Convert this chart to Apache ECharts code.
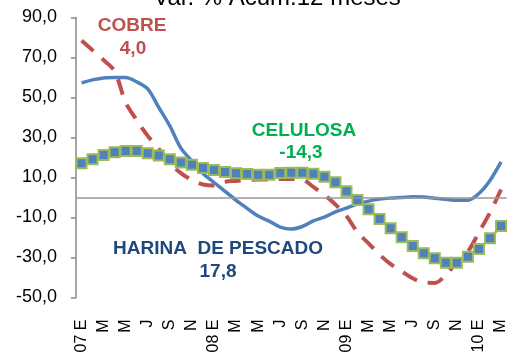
<!DOCTYPE html>
<html>
<head>
<meta charset="utf-8">
<script src="https://cdn.jsdelivr.net/npm/echarts@6/dist/echarts.min.js"></script>
<style>
  html, body { margin: 0; padding: 0; background: #fff; }
  #chart { width: 509px; height: 360px; }
</style>
</head>
<body>
<div id="chart"></div>
<script>
// Monthly categories, Jan 2007 – Mar 2010
var months = [
  '07 E','F','M','A','M','J','J','A','S','O','N','D',
  '08 E','F','M','A','M','J','J','A','S','O','N','D',
  '09 E','F','M','A','M','J','J','A','S','O','N','D',
  '10 E','F','M'
];

// 12-month cumulative % change
var harina = [57.3, 58.8, 59.8, 60.0, 60.0, 57.8, 54.3, 45.0, 35.8, 24.7, 18.3, 12.0,
  7.5, 3.1, -1.4, -5.4, -9.3, -11.8, -14.8, -15.8, -14.5, -11.7, -9.8, -7.2,
  -5.3, -3.2, -1.8, -0.8, -0.3, 0.0, 0.4, 0.3, -0.4, -0.9, -1.4, -1.4,
  2.0, 8.5, 17.8];

var cobre = [78.5, 73.6, 68.7, 63.2, 47.5, 38.7, 30.8, 24.2, 17.0, 12.2, 8.7, 6.5,
  6.0, 7.8, 8.3, 8.7, 9.0, 9.0, 9.2, 9.3, 9.0, 5.3, 1.3, -3.5,
  -9.2, -17.4, -22.9, -28.6, -33.3, -36.9, -40.4, -42.5, -42.7, -38.8, -32.2, -27.0,
  -17.4, -7.5, 4.0];

var celulosa = [17.1, 19.1, 21.3, 22.6, 23.2, 23.2, 22.1, 21.0, 19.1, 17.5, 16.4, 14.7,
  13.7, 12.8, 12.1, 11.7, 11.4, 11.4, 12.2, 12.4, 12.4, 11.9, 10.4, 7.6,
  3.1, -1.25, -5.9, -10.75, -15.4, -19.9, -24.25, -27.9, -30.4, -32.6, -32.6, -29.6,
  -25.75, -20.4, -14.3];

var FONT = "'Liberation Sans', Arial, sans-serif";

var chart = echarts.init(document.getElementById('chart'), null, { renderer: 'canvas' });

function fmt(v) { return v.toFixed(1).replace('.', ','); }

chart.setOption({
  animation: false,
  backgroundColor: '#ffffff',
  textStyle: { fontFamily: FONT },
  grid: { left: 76, top: 17.5, right: 0, height: 280, containLabel: false },
  xAxis: {
    type: 'category',
    data: months,
    boundaryGap: true,
    axisLine: { show: false, onZero: false },
    axisTick: { show: false },
    axisLabel: {
      interval: 1,
      rotate: 90,
      fontSize: 16,
      color: '#000',
      margin: 22,
      fontFamily: FONT
    },
    splitLine: { show: false }
  },
  yAxis: {
    type: 'value',
    min: -50,
    max: 90,
    interval: 20,
    axisLine: { show: true, lineStyle: { color: '#888', width: 1.5 } },
    axisTick: { show: true, length: 5, lineStyle: { color: '#888', width: 1.5 } },
    axisLabel: {
      formatter: fmt,
      fontSize: 18,
      color: '#000',
      margin: 19,
      fontFamily: FONT
    },
    splitLine: { show: false }
  },
  series: [
    {
      name: 'HARINA DE PESCADO',
      type: 'line',
      data: harina,
      smooth: 0.3,
      symbol: 'none',
      lineStyle: { color: '#4F81BD', width: 3.5 },
      z: 2,
      markLine: {
        silent: true,
        symbol: 'none',
        label: { show: false },
        lineStyle: { color: '#999', width: 1.5, type: 'solid' },
        data: [{ yAxis: 0 }]
      }
    },
    {
      name: 'COBRE',
      type: 'line',
      data: cobre,
      smooth: 0.3,
      symbol: 'none',
      lineStyle: { color: '#C0504D', width: 4, type: [16, 11] },
      z: 3
    },
    {
      name: 'CELULOSA',
      type: 'line',
      data: celulosa,
      symbol: 'rect',
      symbolSize: 10,
      showAllSymbol: true,
      lineStyle: { color: '#9BBB59', width: 2.5 },
      itemStyle: { color: '#4F81BD', borderColor: '#9BBB59', borderWidth: 2 },
      z: 4
    }
  ],
  graphic: [
    { type: 'text', x: 277, y: 10, style: { text: 'Var. % Acum.12 meses', fill: '#000', font: '24px ' + FONT, textAlign: 'center', textVerticalAlign: 'bottom' } },
    { type: 'text', x: 132, y: 26, style: { text: 'COBRE', fill: '#C0504D', font: 'bold 19px ' + FONT, textAlign: 'center', textVerticalAlign: 'middle' } },
    { type: 'text', x: 133, y: 49, style: { text: '4,0', fill: '#C0504D', font: 'bold 19px ' + FONT, textAlign: 'center', textVerticalAlign: 'middle' } },
    { type: 'text', x: 304, y: 131, style: { text: 'CELULOSA', fill: '#00B050', font: 'bold 19px ' + FONT, textAlign: 'center', textVerticalAlign: 'middle' } },
    { type: 'text', x: 301, y: 153, style: { text: '-14,3', fill: '#00B050', font: 'bold 19px ' + FONT, textAlign: 'center', textVerticalAlign: 'middle' } },
    { type: 'text', x: 218, y: 249, style: { text: 'HARINA  DE PESCADO', fill: '#1F497D', font: 'bold 19px ' + FONT, textAlign: 'center', textVerticalAlign: 'middle' } },
    { type: 'text', x: 218, y: 272, style: { text: '17,8', fill: '#1F497D', font: 'bold 19px ' + FONT, textAlign: 'center', textVerticalAlign: 'middle' } }
  ]
});
</script>
</body>
</html>
